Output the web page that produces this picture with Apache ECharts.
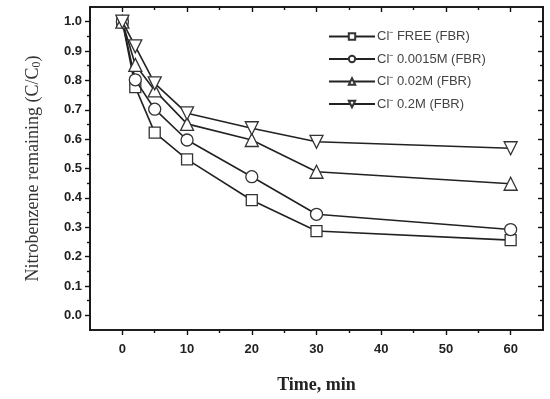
<!DOCTYPE html>
<html>
<head>
<meta charset="utf-8">
<script src="https://cdn.jsdelivr.net/npm/echarts@6/dist/echarts.min.js"></script>
<style>html,body{margin:0;padding:0;background:#fff}#c{width:550px;height:399px}</style>
</head>
<body>
<div id="c"></div>
<script>
// ---- data ----
var timeMin = [0, 2, 5, 10, 20, 30, 60];
var clFree   = [1.00, 0.777, 0.622, 0.531, 0.392, 0.287, 0.256];
var cl0015M  = [1.00, 0.802, 0.702, 0.597, 0.472, 0.344, 0.292];
var cl002M   = [1.00, 0.853, 0.766, 0.652, 0.597, 0.489, 0.448];
var cl02M    = [1.00, 0.916, 0.790, 0.688, 0.637, 0.591, 0.569];
var seriesNames = ['Cl\u207B FREE (FBR)', 'Cl\u207B 0.0015M (FBR)', 'Cl\u207B 0.02M (FBR)', 'Cl\u207B 0.2M (FBR)'];
var xMajor = [0, 10, 20, 30, 40, 50, 60];
var xMinor = [5, 15, 25, 35, 45, 55];
var yMajor = [0, 0.1, 0.2, 0.3, 0.4, 0.5, 0.6, 0.7, 0.8, 0.9, 1.0];
var yMinor = [0.05, 0.15, 0.25, 0.35, 0.45, 0.55, 0.65, 0.75, 0.85, 0.95];

function pairs(ys){ return timeMin.map(function(t,i){ return [t, ys[i]]; }); }

var axisCol = '#111';
var tickFont = {fontFamily:'Liberation Sans, Arial, sans-serif', fontWeight:'bold', fontSize:13, color:'#222'};

function xAx(pos, vals, len, inside, labels, extra){
  var a = {type:'value', min:-5, max:65, position:pos, gridIndex:0,
    axisLine:{show:true, onZero:false, lineStyle:{color:axisCol, width:1.6}},
    axisTick:{show:true, customValues:vals, length:len, inside:inside, lineStyle:{color:axisCol, width:1.4}},
    axisLabel:labels ? Object.assign({show:true, customValues:vals, margin:13}, tickFont) : {show:false},
    splitLine:{show:false}};
  return Object.assign(a, extra||{});
}
function yAx(pos, vals, len, inside, labels, extra){
  var a = {type:'value', min:-0.05, max:1.05, position:pos, gridIndex:0,
    axisLine:{show:true, onZero:false, lineStyle:{color:axisCol, width:1.6}},
    axisTick:{show:true, customValues:vals, length:len, inside:inside, lineStyle:{color:axisCol, width:1.4}},
    axisLabel:labels ? Object.assign({show:true, customValues:vals, margin:8, formatter:function(v){return v.toFixed(1);}}, tickFont) : {show:false},
    splitLine:{show:false}};
  return Object.assign(a, extra||{});
}

var symbols = [
  {symbol:'rect', rotate:0, size:11},
  {symbol:'circle', rotate:0, size:12},
  {symbol:'triangle', rotate:0, size:13},
  {symbol:'triangle', rotate:180, size:13}
];
var allData = [clFree, cl0015M, cl002M, cl02M];

var series = allData.map(function(ys, i){
  return {
    name: seriesNames[i], type:'line', xAxisIndex:0, yAxisIndex:0,
    data: pairs(ys),
    symbol: symbols[i].symbol, symbolRotate: symbols[i].rotate, symbolSize: symbols[i].size,
    showAllSymbol:true,
    lineStyle:{color:'#222', width:1.6},
    itemStyle:{color:'#fff', borderColor:'#333', borderWidth:1.3},
    emphasis:{disabled:true},
    z: 2 + i
  };
});

var chart = echarts.init(document.getElementById('c'), null, {renderer:'canvas'});
chart.setOption({
  animation:false,
  backgroundColor:'#fff',
  grid:{left:90, right:7, top:7, bottom:68, containLabel:false},
  legend:{
    orient:'vertical', left:323, top:25, itemGap:9.5, itemWidth:46, itemHeight:8,
    data: seriesNames,
    textStyle:{fontFamily:'Liberation Sans, Arial, sans-serif', fontSize:13, color:'#444', padding:[0,0,0,-3]}
  },
  xAxis:[
    xAx('bottom', xMajor, 5, false, true, {
      name:'Time, min', nameLocation:'middle', nameGap:46,
      nameTextStyle:{fontFamily:'Liberation Serif, Times New Roman, serif', fontWeight:'bold', fontSize:18, color:'#222'}
    }),
    xAx('bottom', xMinor, 3, false, false),
    xAx('top', xMajor, 5, true, false),
    xAx('top', xMinor, 3, true, false)
  ],
  yAxis:[
    yAx('left', yMajor, 5, false, true, {
      name:'Nitrobenzene remaining (C/C{sub|0})', nameLocation:'middle', nameGap:48, nameRotate:90,
      nameTextStyle:{fontFamily:'Liberation Serif, Times New Roman, serif', fontSize:18, color:'#333',
        rich:{sub:{fontFamily:'Liberation Serif, Times New Roman, serif', fontSize:12, color:'#333', padding:[0,0,-8,0]}}}
    }),
    yAx('left', yMinor, 3, false, false),
    yAx('right', yMajor, 5, true, false),
    yAx('right', yMinor, 3, true, false)
  ],
  series: series
});
</script>
</body>
</html>
